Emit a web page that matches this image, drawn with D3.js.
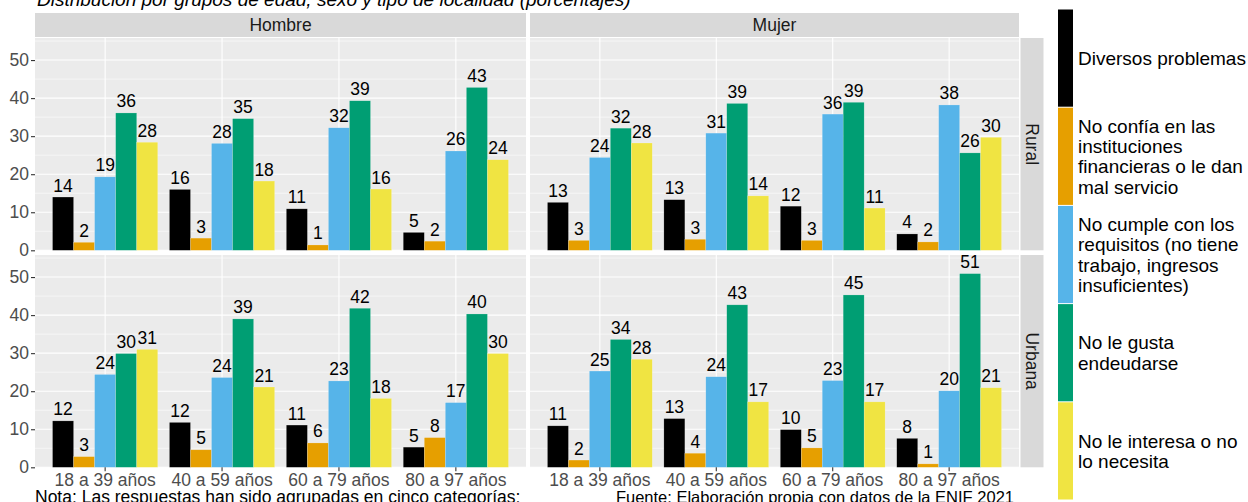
<!DOCTYPE html>
<html>
<head>
<meta charset="utf-8">
<script src="https://cdn.jsdelivr.net/npm/d3@7"></script>
<style>
  html, body { margin: 0; padding: 0; background: #ffffff; }
  svg { display: block; font-family: "Liberation Sans", Arial, Helvetica, sans-serif; }
</style>
</head>
<body>
<svg id="chart" width="1248" height="502"></svg>
<script>
// ---------------- DATA ----------------
const title = "Distribución por grupos de edad, sexo y tipo de localidad (porcentajes)";
const captionLeft = "Nota: Las respuestas han sido agrupadas en cinco categorías;";
const captionRight = "Fuente: Elaboración propia con datos de la ENIF 2021";

const sexes = ["Hombre", "Mujer"];
const localities = ["Rural", "Urbana"];
const ages = ["18 a 39 años", "40 a 59 años", "60 a 79 años", "80 a 97 años"];
const motives = [
  "Diversos problemas",
  "No confía en las instituciones financieras o le dan mal servicio",
  "No cumple con los requisitos (no tiene trabajo, ingresos insuficientes)",
  "No le gusta endeudarse",
  "No le interesa o no lo necesita"
];
const legendLines = [
  ["Diversos problemas"],
  ["No confía en las", "instituciones", "financieras o le dan", "mal servicio"],
  ["No cumple con los", "requisitos (no tiene", "trabajo, ingresos", "insuficientes)"],
  ["No le gusta", "endeudarse"],
  ["No le interesa o no", "lo necesita"]
];
const motiveColors = ["#000000", "#E69F00", "#56B4E9", "#009E73", "#F0E442"];

// rows: age groups; columns: motives (same order as `motives`)
const hombreRural = [
  [14.0, 2.1, 19.3, 36.1, 28.4],
  [16.0, 3.2, 28.1, 34.6, 18.2],
  [10.9, 1.4, 32.2, 39.3, 16.1],
  [ 4.7, 2.4, 26.1, 42.8, 23.8]
];
const mujerRural = [
  [12.6, 2.6, 24.4, 32.1, 28.2],
  [13.3, 2.9, 30.8, 38.6, 14.3],
  [11.6, 2.6, 35.8, 38.9, 11.1],
  [ 4.3, 2.2, 38.2, 25.6, 29.7]
];
const hombreUrbana = [
  [12.2, 2.8, 24.4, 29.9, 31.0],
  [11.8, 4.6, 23.6, 39.0, 21.1],
  [11.1, 6.4, 22.7, 41.8, 18.1],
  [ 5.3, 7.8, 17.0, 40.3, 29.9]
];
const mujerUrbana = [
  [10.9, 1.9, 25.3, 33.6, 28.4],
  [12.8, 3.7, 23.8, 42.7, 17.2],
  [ 9.9, 5.1, 22.8, 45.3, 17.2],
  [ 7.6, 0.9, 20.1, 50.9, 20.9]
];
const yTicks = [0, 10, 20, 30, 40, 50];
const yMinorTicks = [5, 15, 25, 35, 45, 55];
const yMax = 55.8;

// ---------------- LAYOUT ----------------
const panelData = {
  "Hombre|Rural": hombreRural,
  "Mujer|Rural": mujerRural,
  "Hombre|Urbana": hombreUrbana,
  "Mujer|Urbana": mujerUrbana
};
const colRanges = [[35, 526], [530, 1019]];
const rowRanges = [[38, 250.3], [255, 467.3]];
const stripTop = 13, stripBottom = 37;
const rStripX0 = 1020.5, rStripX1 = 1043.5;
const FONT = 17.5;

const svg = d3.select("#chart");

// title
svg.append("text")
  .attr("x", 37).attr("y", 6)
  .attr("font-size", 19).attr("font-style", "italic").attr("fill", "#000")
  .text(title);

sexes.forEach((sex, ci) => {
  const [x0, x1] = colRanges[ci];
  const xScale = d3.scaleBand().domain(ages).range([x0, x1]).paddingInner(0.1).paddingOuter(0.15);
  const xInner = d3.scaleBand().domain(motives).range([0, xScale.bandwidth()]);

  // top strip
  svg.append("rect").attr("x", x0).attr("y", stripTop).attr("width", x1 - x0).attr("height", stripBottom - stripTop).attr("fill", "#D9D9D9");
  svg.append("text").attr("x", (x0 + x1) / 2).attr("y", (stripTop + stripBottom) / 2).attr("dy", "0.36em")
    .attr("text-anchor", "middle").attr("font-size", FONT).attr("fill", "#1A1A1A").text(sex);

  localities.forEach((loc, ri) => {
    const [y0, y1] = rowRanges[ri];
    const yScale = d3.scaleLinear().domain([0, yMax]).range([y1, y0]);
    const rows = panelData[sex + "|" + loc];
    const g = svg.append("g");

    g.append("rect").attr("x", x0).attr("y", y0).attr("width", x1 - x0).attr("height", y1 - y0).attr("fill", "#EBEBEB");
    // minor grid
    g.selectAll(".minor").data(yMinorTicks.filter(t => t < yMax)).join("line")
      .attr("x1", x0).attr("x2", x1).attr("y1", d => yScale(d)).attr("y2", d => yScale(d))
      .attr("stroke", "#fff").attr("stroke-width", 0.55);
    // major grid
    g.selectAll(".major").data(yTicks).join("line")
      .attr("x1", x0).attr("x2", x1).attr("y1", d => yScale(d)).attr("y2", d => yScale(d))
      .attr("stroke", "#fff").attr("stroke-width", 1.1);
    g.selectAll(".vgrid").data(ages).join("line")
      .attr("x1", d => xScale(d) + xScale.bandwidth() / 2).attr("x2", d => xScale(d) + xScale.bandwidth() / 2)
      .attr("y1", y0).attr("y2", y1).attr("stroke", "#fff").attr("stroke-width", 1.1);

    // bars
    const flat = [];
    ages.forEach((age, ai) => motives.forEach((m, mi) => flat.push({ age, m, mi, v: rows[ai][mi] })));
    g.selectAll(".bar").data(flat).join("rect")
      .attr("x", d => xScale(d.age) + xInner(d.m))
      .attr("y", d => yScale(d.v))
      .attr("width", xInner.bandwidth())
      .attr("height", d => yScale(0) - yScale(d.v))
      .attr("fill", d => motiveColors[d.mi])
      .attr("stroke", "rgba(255,255,255,0.35)").attr("stroke-width", 0.5);
    g.selectAll(".lbl").data(flat).join("text")
      .attr("x", d => xScale(d.age) + xInner(d.m) + xInner.bandwidth() / 2)
      .attr("y", d => yScale(d.v) - 5.5)
      .attr("text-anchor", "middle").attr("font-size", FONT).attr("fill", "#000")
      .text(d => d3.format(".0f")(d.v));

    // y axis (left column only)
    if (ci === 0) {
      const yAxis = d3.axisLeft(yScale).tickValues(yTicks).tickSize(4).tickPadding(2);
      const ax = svg.append("g").attr("transform", `translate(${x0},0)`).call(yAxis);
      ax.select(".domain").remove();
      ax.selectAll(".tick line").attr("stroke", "#333333").attr("stroke-width", 1.1);
      ax.selectAll(".tick text").attr("font-size", FONT).attr("fill", "#4D4D4D").attr("font-family", "Liberation Sans, Arial, sans-serif");
    }
    // x axis (bottom row only)
    if (ri === 1) {
      const xAxis = d3.axisBottom(xScale).tickSize(4).tickPadding(2);
      const ax = svg.append("g").attr("transform", `translate(0,${y1})`).call(xAxis);
      ax.select(".domain").remove();
      ax.selectAll(".tick line").attr("stroke", "#333333").attr("stroke-width", 1.1);
      ax.selectAll(".tick text").attr("font-size", FONT).attr("fill", "#4D4D4D").attr("font-family", "Liberation Sans, Arial, sans-serif");
    }
    // right strip
    if (ci === 1) {
      svg.append("rect").attr("x", rStripX0).attr("y", y0).attr("width", rStripX1 - rStripX0).attr("height", y1 - y0).attr("fill", "#D9D9D9");
      const cx = (rStripX0 + rStripX1) / 2, cy = (y0 + y1) / 2;
      svg.append("text").attr("transform", `translate(${cx},${cy}) rotate(90)`).attr("dy", "0.36em")
        .attr("text-anchor", "middle").attr("font-size", FONT).attr("fill", "#1A1A1A").text(loc);
    }
  });
});

// legend
const legY = d3.scaleBand().domain(motives).range([9, 500]);
const leg = svg.append("g");
motives.forEach((m, i) => {
  const yk = legY(m);
  leg.append("rect").attr("x", 1058).attr("y", yk + 0.5).attr("width", 15).attr("height", legY.bandwidth() - 1)
    .attr("fill", motiveColors[i]);
  const lines = legendLines[i];
  const lh = 20.4;
  const cy = yk + legY.bandwidth() / 2;
  const startY = cy - (lines.length - 1) * lh / 2;
  lines.forEach((ln, li) => {
    leg.append("text").attr("x", 1078).attr("y", startY + li * lh).attr("dy", "0.36em")
      .attr("font-size", 19).attr("fill", "#000").text(ln);
  });
});

// captions
svg.append("text").attr("x", 35).attr("y", 503).attr("font-size", FONT).attr("fill", "#000").text(captionLeft);
svg.append("text").attr("x", 1014).attr("y", 503).attr("text-anchor", "end").attr("font-size", 16.5).attr("fill", "#000").text(captionRight);
</script>
</body>
</html>
